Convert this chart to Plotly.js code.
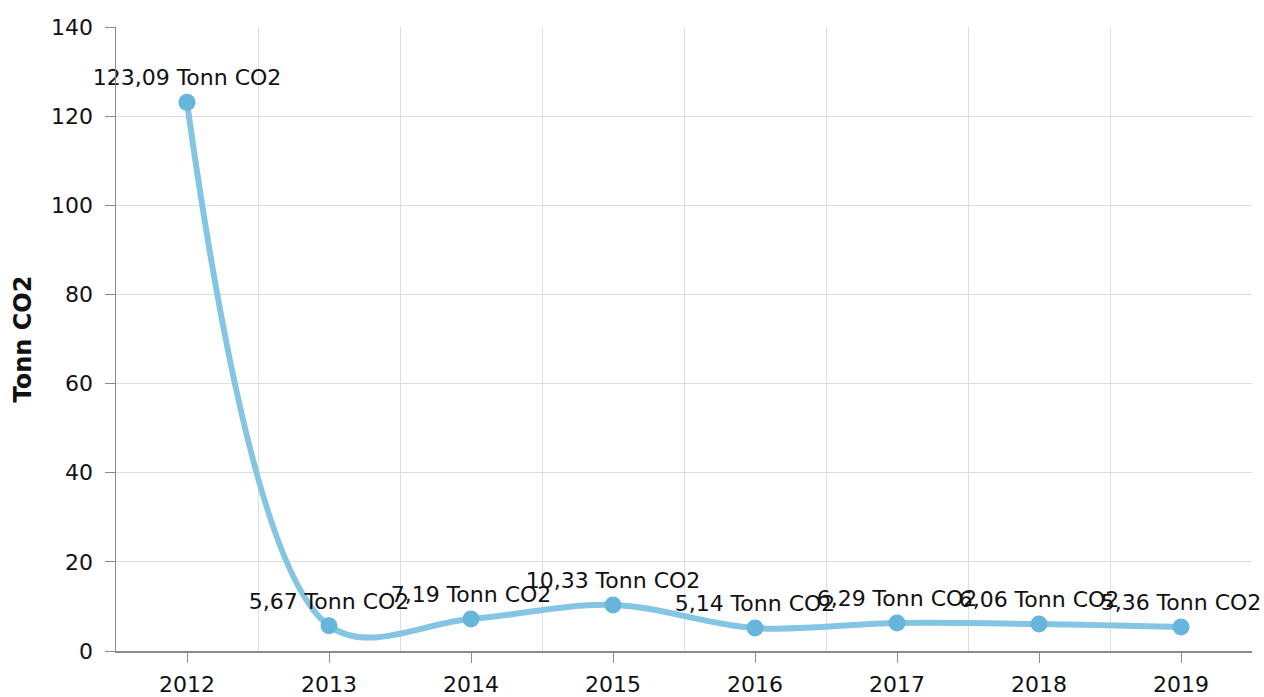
<!DOCTYPE html>
<html>
<head>
<meta charset="utf-8">
<script src="https://cdn.plot.ly/plotly-3.0.1.min.js"></script>
<style>html,body{margin:0;padding:0;background:#fff}#chart{width:1264px;height:697px}</style>
</head>
<body>
<div id="chart"></div>
<script>
const years = ["2012","2013","2014","2015","2016","2017","2018","2019"];
const values = [123.09, 5.67, 7.19, 10.33, 5.14, 6.29, 6.06, 5.36];
const unit = "Tonn CO2";
const yTicks = [0, 20, 40, 60, 80, 100, 120, 140];

const idx = years.map((_, i) => i);
const labels = values.map(v => v.toFixed(2).replace('.', ',') + ' ' + unit);

const trace = {
  x: idx,
  y: values,
  type: 'scatter',
  mode: 'lines+markers+text',
  line: {shape: 'spline', smoothing: 1, color: '#85c5e4', width: 6},
  marker: {color: '#65b5dc', size: 17},
  text: labels,
  textposition: 'top center',
  textfont: {family: 'DejaVu Sans, Verdana, sans-serif', size: 22, color: '#111'},
  hoverinfo: 'none',
  cliponaxis: false
};

const layout = {
  width: 1264, height: 697,
  margin: {l: 116, r: 12, t: 27, b: 46},
  paper_bgcolor: '#fff', plot_bgcolor: '#fff',
  showlegend: false,
  font: {family: 'DejaVu Sans, Verdana, sans-serif', size: 22, color: '#111'},
  xaxis: {
    range: [-0.5, 7.5],
    tickmode: 'array', tickvals: idx, ticktext: years,
    showgrid: false, zeroline: false,
    showline: true, linecolor: '#8a8a8a', linewidth: 1.5,
    ticks: 'outside', ticklen: 10, tickcolor: '#8a8a8a', tickwidth: 1,
    ticklabelstandoff: 3,
    minor: {tickmode: 'linear', tick0: -0.5, dtick: 1, showgrid: true, gridcolor: '#dedede', gridwidth: 1, ticks: ''},
    tickfont: {size: 22}
  },
  yaxis: {
    range: [0, 140],
    tickmode: 'array', tickvals: yTicks,
    showgrid: true, gridcolor: '#dedede', gridwidth: 1, zeroline: false,
    showline: true, linecolor: '#8a8a8a', linewidth: 1.5,
    ticks: 'outside', ticklen: 10, tickcolor: '#8a8a8a',
    ticklabelstandoff: 7,
    tickfont: {size: 22},
    title: {text: '<b>' + unit + '</b>', font: {size: 24}, standoff: 12}
  }
};

Plotly.newPlot('chart', [trace], layout, {displayModeBar: false, staticPlot: true});
</script>
</body>
</html>
